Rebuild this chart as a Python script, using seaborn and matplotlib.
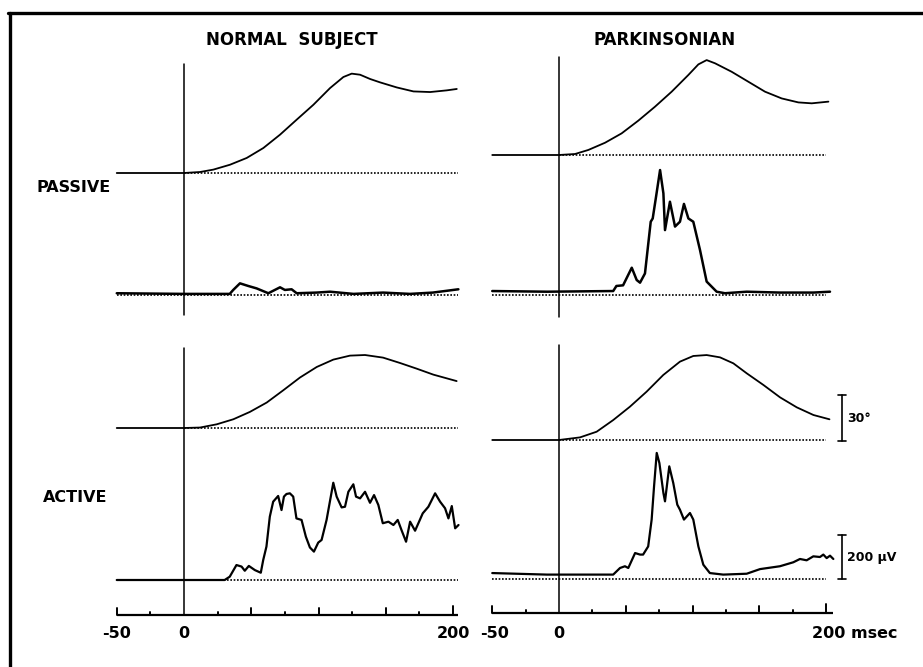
import numpy as np
import pandas as pd
import seaborn as sns
import matplotlib.pyplot as plt
from matplotlib.lines import Line2D

# Valores: tiempo (ms), posición (grados), EMG (µV)
# --- Sujeto normal, pasivo
nor_pas_pos_t = [-50, 0, 11.9, 21.8, 34.2, 46.6, 59, 71.4, 83.8, 96.2, 108.6, 118.5, 124.7, 130.9, 138.4, 145.8, 158.2, 170.6, 183, 195.4, 202.8]
nor_pas_pos = [0, 0, 0.65, 2.2, 5.4, 9.8, 16.3, 25, 34.8, 44.5, 55.4, 62.6, 64.8, 64.1, 61.3, 59.1, 55.8, 53.2, 52.8, 53.9, 54.8]
nor_pas_emg_t = [-50, 0, 34, 36.6, 41.6, 47.8, 54, 62.7, 71.4, 75, 80, 83.8, 98.6, 108.6, 126, 148, 168, 185, 204]
nor_pas_emg = [8, 5, 5, 23, 53, 41, 30, 8, 35, 23, 26, 8, 11, 15, 5, 11, 5, 11, 26]

# --- Sujeto normal, activo
nor_act_pos_t = [-50, 0, 11.9, 24.3, 36.7, 49, 61.5, 73.8, 86.2, 98.7, 111, 123.4, 134.6, 148, 160.6, 173, 185.4, 202.7]
nor_act_pos = [0, 0, 0.3, 2.4, 5.7, 10.5, 16.6, 24.6, 32.9, 39.8, 44.6, 47.2, 47.6, 45.9, 42.4, 38.7, 34.8, 30.6]
nor_act_emg_t = [-50, 30.2, 34, 39, 42.8, 45.2, 48.2, 52.7, 57.1, 58.9, 61.3, 63.8, 66.3, 70, 72.5, 74.3, 76.2,
                 78.7, 81.2, 83.6, 87.4, 90.6, 93.6, 96.6, 99.8, 102.3, 106, 111, 113.5, 117.2, 119.7, 122.2,
                 125.9, 127.9, 130.9, 134.6, 138.3, 141.3, 144.5, 147.8, 152, 155.7, 158.9, 161.9, 165.1,
                 168.1, 171.8, 177.5, 181.7, 186.7, 190.4, 194.1, 196.6, 199.1, 201.6, 204.1]
nor_act_emg = [0, 0, 15, 68, 61, 42, 64, 45, 33, 91, 152, 288, 356, 382, 318, 379, 391,
               394, 379, 280, 273, 197, 148, 129, 170, 182, 273, 442, 379, 330, 333, 401,
               435, 379, 371, 401, 351, 386, 341, 258, 265, 250, 273, 224, 174,
               265, 224, 303, 333, 394, 356, 326, 280, 336, 235, 250]

# --- Parkinsoniano, pasivo
par_pas_pos_t = [-50, 0, 12, 22, 34.5, 46.9, 59.4, 71.9, 84.4, 96.9, 104.4, 110.6, 116.9, 129.3, 141.8, 154.3, 166.8, 179.3, 189.3, 201.8]
par_pas_pos = [0, 0, 0.65, 3.3, 8, 14.1, 22.4, 31.5, 41.3, 52.2, 59.1, 61.9, 59.8, 54.3, 47.8, 41.3, 36.9, 34.3, 33.7, 34.8]
par_pas_emg_t = [-50, -9, 40.6, 43, 48, 54.5, 58.2, 60.7, 64.4, 68.7, 70.2, 72.7, 75.7, 78.2, 79.4, 83.1,
                 86.9, 90.6, 93.6, 96.9, 100.6, 105.6, 110.6, 118.1, 124.3, 140.6, 165.6, 190.5, 203]
par_pas_emg = [18, 15, 18, 41, 44, 124, 68, 56, 98, 333, 348, 447, 568, 462, 295, 424,
               311, 333, 414, 348, 333, 205, 61, 15, 8, 15, 11, 11, 15]

# --- Parkinsoniano, activo
par_act_pos_t = [-50, 0, 15.7, 28.2, 40.6, 53.1, 65.6, 78.1, 90.6, 100.6, 110.6, 120.6, 130.6, 140.6, 153.1, 165.6, 178.1, 190.6, 202.6]
par_act_pos = [0, 0, 1.7, 5.4, 13, 21.7, 31.5, 42.4, 51.1, 54.8, 55.4, 53.9, 50, 43.5, 35.9, 27.8, 21.3, 16.3, 13.5]
par_act_emg_t = [-50, -9, 40.6, 45.7, 49.4, 51.9, 57, 60.7, 63, 66.8, 69.4, 71.2, 73.2, 75.2, 78.2, 79.4,
                 82.6, 85.6, 88.6, 90.6, 93.6, 98.1, 100.6, 104.4, 108.1, 113, 123, 140.6, 150.6, 165.5,
                 175.5, 180.5, 185.5, 190.5, 195.5, 198, 200.5, 203, 205.5]
par_act_emg = [27, 20, 20, 50, 58, 50, 118, 111, 111, 148, 270, 421, 573, 527, 391, 353,
               512, 436, 338, 315, 270, 300, 270, 148, 65, 27, 20, 24, 45, 58,
               76, 91, 85, 103, 100, 111, 95, 106, 91]

ticks_ms = list(range(-50, 201, 25))

W, H = 923, 667
PX_GRADO = 46 / 30.0   # barra de 30°
PX_UV = 44 / 200.0     # barra de 200 µV

sns.set_style("white")
plt.rcParams["font.family"] = ["DejaVu Sans"]
plt.rcParams["text.color"] = "black"
fig = plt.figure(figsize=(W / 100, H / 100), dpi=100)


def columna(px0, px1, x_cero, px_ms):
    ax = fig.add_axes([px0 / W, 0, (px1 - px0) / W, 1])
    ax.set_xlim((px0 - x_cero) / px_ms, (px1 - x_cero) / px_ms)
    ax.set_ylim(H, 0)
    ax.axis("off")
    return ax


def traza(ax, t, v, base, escala, lw):
    df = pd.DataFrame({"t": t, "y": base - np.asarray(v, dtype=float) * escala})
    sns.lineplot(data=df, x="t", y="y", ax=ax, color="black", lw=lw,
                 sort=False, estimator=None, legend=False)


def punteada(ax, t0, t1, base):
    ax.plot([t0, t1], [base, base], color="black", lw=1.2, ls=(0, (1, 1)))


def eje_tiempo(ax, y, t_fin):
    ax.plot([-50, t_fin], [y, y], color="black", lw=1.6, solid_capstyle="butt")
    for t in ticks_ms:
        if t == 0:
            continue
        h = 9 if t == 200 else (7 if t % 50 == 0 else 3)
        ax.plot([t, t], [y, y - h], color="black", lw=1.4)


# columna izquierda: sujeto normal
axL = columna(95, 475, 184, 1.345)
axL.plot([0, 0], [64, 315], color="black", lw=1.1)
axL.plot([0, 0], [348, 615], color="black", lw=1.1)
punteada(axL, 0, 204, 173)
traza(axL, nor_pas_pos_t, nor_pas_pos, 173, PX_GRADO, 1.3)
punteada(axL, -50, 204, 295)
traza(axL, nor_pas_emg_t, nor_pas_emg, 295, PX_UV, 1.8)
punteada(axL, 0, 204, 428)
traza(axL, nor_act_pos_t, nor_act_pos, 428, PX_GRADO, 1.3)
punteada(axL, -50, 204, 580)
traza(axL, nor_act_emg_t, nor_act_emg, 580, PX_UV, 1.6)
eje_tiempo(axL, 615, 204)
for t, lab in [(-50, "-50"), (0, "0"), (200, "200")]:
    axL.text(t, 634, lab, ha="center", va="center", fontsize=11.5, fontweight="bold")
axL.text(80, 40, "NORMAL  SUBJECT", ha="center", va="center", fontsize=12, fontweight="bold")

# columna derecha: parkinsoniano
axR = columna(480, 923, 559, 1.335)
axR.plot([0, 0], [57, 317], color="black", lw=1.1)
axR.plot([0, 0], [345, 613], color="black", lw=1.1)
punteada(axR, 0, 200, 155)
traza(axR, par_pas_pos_t, par_pas_pos, 155, PX_GRADO, 1.3)
punteada(axR, -50, 200, 295)
traza(axR, par_pas_emg_t, par_pas_emg, 295, PX_UV, 1.8)
punteada(axR, 0, 200, 440)
traza(axR, par_act_pos_t, par_act_pos, 440, PX_GRADO, 1.3)
punteada(axR, -50, 200, 579)
traza(axR, par_act_emg_t, par_act_emg, 579, PX_UV, 1.6)
eje_tiempo(axR, 613, 205)
axR.text(-48, 634, "-50", ha="center", va="center", fontsize=11.5, fontweight="bold")
axR.text(0, 634, "0", ha="center", va="center", fontsize=11.5, fontweight="bold")
axR.text(189.5, 634, "200 msec", ha="left", va="center", fontsize=11.5, fontweight="bold")
axR.text(79, 40, "PARKINSONIAN", ha="center", va="center", fontsize=12, fontweight="bold")

# barras de escala
xb = 212
for base, largo, lab in [(441, 30 * PX_GRADO, "30°"), (579, 200 * PX_UV, "200 µV")]:
    axR.plot([xb, xb], [base, base - largo], color="black", lw=1.2)
    axR.plot([xb - 3, xb + 3], [base, base], color="black", lw=1.2)
    axR.plot([xb - 3, xb + 3], [base - largo, base - largo], color="black", lw=1.2)
    axR.text(xb + 3.5, base - largo / 2, lab, ha="left", va="center", fontsize=9, fontweight="bold")

# etiquetas de fila
fig.text(37 / W, 1 - 188 / H, "PASSIVE", ha="left", va="center", fontsize=11.5, fontweight="bold")
fig.text(43 / W, 1 - 498 / H, "ACTIVE", ha="left", va="center", fontsize=11.5, fontweight="bold")

# marco recortado (solo borde superior e izquierdo)
fig.add_artist(Line2D([9.5 / W, 9.5 / W], [0, 1 - 13 / H], color="black", lw=2.4, transform=fig.transFigure))
fig.add_artist(Line2D([8 / W, 1], [1 - 13 / H, 1 - 13 / H], color="black", lw=2.4, transform=fig.transFigure))

fig.savefig("out.png", dpi=100)
